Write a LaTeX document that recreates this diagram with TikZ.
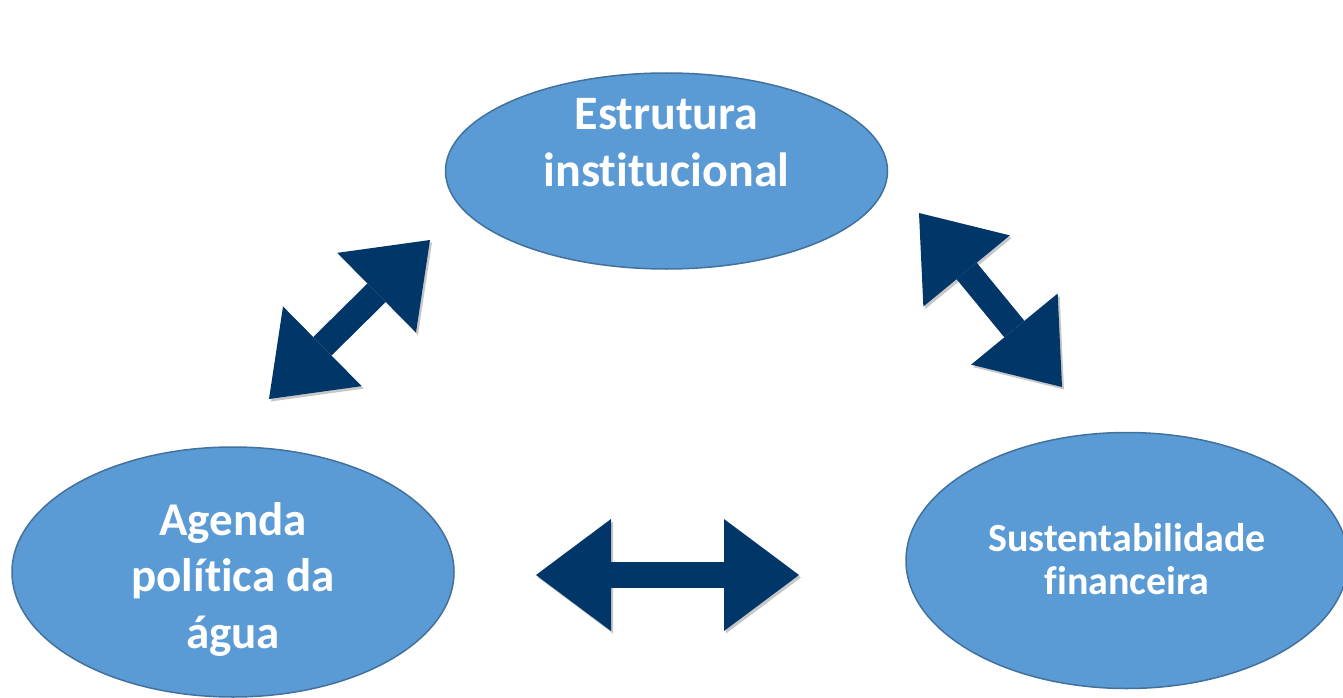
\documentclass[tikz,border=0pt]{standalone}
\usepackage{fontspec}
\setmainfont{Carlito}[Ligatures=NoCommon]
\usetikzlibrary{shapes.geometric,arrows.meta,positioning}

\definecolor{ovalfill}{HTML}{5B9BD5}
\definecolor{ovaldraw}{HTML}{41719C}
\definecolor{arrownavy}{HTML}{003668}

\begin{document}
\begin{tikzpicture}[x=1pt,y=-1pt,
	oval/.style={ellipse,draw=ovaldraw,fill=ovalfill,line width=1.5pt,inner sep=0pt,minimum width=442pt},
	txt/.style={text=white,align=center,inner sep=0pt,font=\bfseries\fontsize{48}{57}\selectfont},
	bigarrow/.style={draw=arrownavy,line width=26pt,
		{Triangle[length=75pt,width=112pt,line width=0pt]}-{Triangle[length=75pt,width=112pt,line width=0pt]},
		preaction={draw=black!22,transform canvas={shift={(2pt,-2.5pt)}}}}]
	\useasboundingbox (0,0) rectangle (1343,698);
	% the three themes
	\node[oval,minimum height=196pt] (e_1) at (666.5,171) {};
	\node[oval,minimum height=250pt] (e_2) at (233,572) {};
	\node[oval,minimum height=256pt] (e_3) at (1127,560.5) {};
	\node[txt] (t_1) at (e_1) [yshift=28.5pt] {Estrutura\\institucional};
	\node[txt,font=\bfseries\fontsize{47}{56.5}\selectfont] (t_2) at (e_2) [yshift=-7pt] {Agenda\\política da\\água};
	\node[txt,font=\bfseries\fontsize{40}{43.5}\selectfont] (t_3) at (e_3) [yshift=1.5pt] {Sustentabilidade\\financeira};
	% arrow ends
	\coordinate (a_1) at (269,399);
	\coordinate (b_1) at (430,240);
	\coordinate (a_2) at (919,213);
	\coordinate (b_2) at (1062,387);
	\coordinate (a_3) at (536,575);
	\coordinate (b_3) at (799,575);
	\draw[bigarrow] (a_1) -- (b_1);
	\draw[bigarrow] (a_2) -- (b_2);
	\draw[bigarrow] (a_3) -- (b_3);
\end{tikzpicture}
\end{document}
